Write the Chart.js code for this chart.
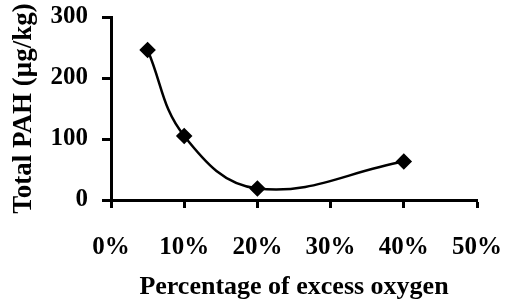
<!DOCTYPE html>
<html>
<head>
<meta charset="utf-8">
<script src="https://cdn.jsdelivr.net/npm/chart.js@4/dist/chart.umd.min.js"></script>
<style>
html,body{margin:0;padding:0;background:#fff;}
#wrap{width:505px;height:306px;}
</style>
</head>
<body>
<div id="wrap"><canvas id="c" width="505" height="306"></canvas></div>
<script>
const excessOxygen = [5, 10, 20, 40];
const totalPAH = [246, 105, 19, 63];
const xTicks = [0, 10, 20, 30, 40, 50];
const yTicks = [0, 100, 200, 300];
const xTitle = 'Percentage of excess oxygen';
const yTitle = 'Total PAH (\u03bcg/kg)';

const serif = 'Liberation Serif, Times New Roman, serif';
const pts = excessOxygen.map((x, i) => ({x: x, y: totalPAH[i]}));

new Chart(document.getElementById('c'), {
  type: 'line',
  data: {
    datasets: [{
      data: pts,
      borderColor: '#000',
      backgroundColor: '#000',
      borderWidth: 2.5,
      tension: 0.4,
      pointStyle: 'rectRot',
      pointRadius: 6.5,
      pointHoverRadius: 6.5,
      pointBackgroundColor: '#000',
      pointBorderColor: '#000',
      fill: false
    }]
  },
  options: {
    responsive: false,
    animation: false,
    devicePixelRatio: 1,
    layout: {padding: {top: 17, right: 28, left: 0, bottom: 0}},
    plugins: {legend: {display: false}, tooltip: {enabled: false}},
    scales: {
      x: {
        type: 'linear',
        min: 0, max: 50,
        afterBuildTicks: s => { s.ticks = xTicks.map(v => ({value: v})); },
        afterFit: s => { s.height = 106; s.paddingLeft = 0; s.paddingRight = 0; },
        border: {display: true, color: '#000', width: 3},
        grid: {drawOnChartArea: false, drawTicks: true, tickLength: 8, tickWidth: 3, color: '#000'},
        ticks: {
          color: '#000', padding: 25,
          font: {family: serif, size: 25, weight: 'bold'},
          callback: v => v + '%'
        },
        title: {
          display: true, text: xTitle, color: '#000',
          font: {family: serif, size: 26, weight: 'bold'},
          padding: {top: 0, bottom: 3}
        }
      },
      y: {
        type: 'linear',
        min: 0, max: 300,
        afterBuildTicks: s => { s.ticks = yTicks.map(v => ({value: v})); },
        afterFit: s => { s.width = 111; s.paddingTop = 0; s.paddingBottom = 0; },
        border: {display: true, color: '#000', width: 3},
        grid: {drawOnChartArea: false, drawTicks: true, tickLength: 9, tickWidth: 3, color: '#000'},
        ticks: {
          color: '#000', padding: 14,
          font: {family: serif, size: 25, weight: 'bold'}
        },
        title: {
          display: true, text: yTitle, color: '#000',
          font: {family: serif, size: 27, weight: 'bold'},
          padding: {top: 8, bottom: 0}
        }
      }
    }
  }
});
</script>
</body>
</html>
